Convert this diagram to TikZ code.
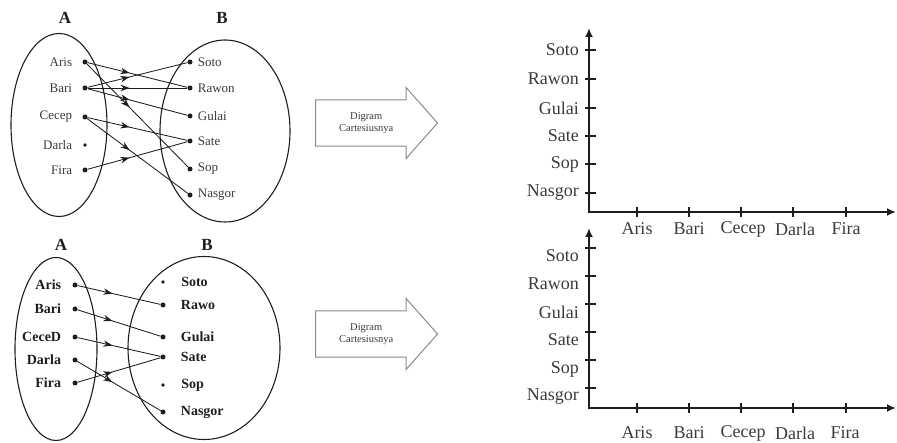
\documentclass[tikz,border=0pt]{standalone}
\usepackage{fontspec}
\setmainfont{Liberation Serif}
\usepackage{tikz}
\usetikzlibrary{arrows.meta,positioning,shapes.geometric,shapes.arrows,decorations.markings}
\definecolor{Ink}{HTML}{1E1E1E}
\definecolor{Soft}{HTML}{3A3A3A}
\definecolor{Frame}{HTML}{8A8A8A}
\tikzset{
  setring/.style={ellipse,draw=Ink,line width=1.1pt,inner sep=0pt},
  elemdot/.style={circle,fill=Ink,inner sep=0pt,minimum size=5pt},
  lonedot/.style={circle,fill=Ink,inner sep=0pt,minimum size=3.8pt},
  setname/.style={font=\fontsize{17}{17}\selectfont\bfseries,text=Ink,inner sep=0pt},
  elem/.style={font=\fontsize{13}{13}\selectfont,text=Soft,inner sep=0pt},
  elembold/.style={font=\fontsize{14}{15}\selectfont\bfseries,text=Ink,inner sep=0pt},
  mapto/.style={draw=Ink,line width=.85pt,postaction={decorate},
    decoration={markings,mark=at position .42 with {\arrow{Stealth[length=9pt,width=6.5pt]}}}},
  bigarrow/.style={single arrow,draw=Frame,line width=1pt,single arrow head extend=12.5pt,
    single arrow tip angle=97,minimum height=122pt,minimum width=70pt,inner ysep=12pt,
    align=center,font=\fontsize{10.5}{12}\selectfont,text=Soft},
  axlines/.style={draw=Ink,line width=2.4pt,{Latex[length=9pt,width=8pt]}-{Latex[length=9pt,width=8pt]}},
  axtick/.style={draw=Ink,line width=1.8pt},
  axlabel/.style={font=\fontsize{18}{18}\selectfont,text=Soft,inner sep=0pt}
}
\begin{document}
\begin{tikzpicture}[x=1pt,y=-1pt]
  \useasboundingbox (0,0) rectangle (897,443);

  \node[setname] (nameA1) at (65,18) {A};
  \node[setname] (nameB1) at (222,18) {B};
  \node[setring,minimum width=96pt,minimum height=183pt] (setA1) at (59,125) {};
  \node[setring,minimum width=130pt,minimum height=182pt] (setB1) at (225,131) {};
  \node[elemdot] (a1) at (85,62) {};
  \node[elemdot] (a2) at (85,88) {};
  \node[elemdot] (a3) at (85,117) {};
  \node[lonedot] (a4) at (85,145) {};
  \node[elemdot] (a5) at (85,170) {};
  \node[elem,left=10pt of a1] {Aris};
  \node[elem,left=10pt of a2] {Bari};
  \node[elem,left=10pt of a3] {Cecep};
  \node[elem,left=10.6pt of a4] {Darla};
  \node[elem,left=10pt of a5] {Fira};
  \node[elemdot] (b1) at (190,62) {};
  \node[elemdot] (b2) at (190,88) {};
  \node[elemdot] (b3) at (190,116) {};
  \node[elemdot] (b4) at (190,141) {};
  \node[elemdot] (b5) at (190,169) {};
  \node[elemdot] (b6) at (190,195) {};
  \node[elem,right=5pt of b1] {Soto};
  \node[elem,right=5pt of b2] {Rawon};
  \node[elem,right=5pt of b3] {Gulai};
  \node[elem,right=5pt of b4] {Sate};
  \node[elem,right=5pt of b5] {Sop};
  \node[elem,right=5pt of b6] {Nasgor};
  \draw[mapto] (a1) -- (b2);
  \draw[mapto] (a1) -- (b5);
  \draw[mapto] (a2) -- (b1);
  \draw[mapto] (a2) -- (b2);
  \draw[mapto] (a2) -- (b3);
  \draw[mapto] (a3) -- (b4);
  \draw[mapto] (a3) -- (b6);
  \draw[mapto] (a5) -- (b4);

  \node[setname] (nameA2) at (61,245) {A};
  \node[setname] (nameB2) at (207,245) {B};
  \node[setring,minimum width=82pt,minimum height=183pt] (setA2) at (56,349) {};
  \node[setring,minimum width=152pt,minimum height=183pt] (setB2) at (204,348) {};
  \node[elemdot] (c1) at (75,285) {};
  \node[elemdot] (c2) at (75,309) {};
  \node[elemdot] (c3) at (75,337) {};
  \node[elemdot] (c4) at (75,360) {};
  \node[elemdot] (c5) at (75,383) {};
  \node[elembold,left=11pt of c1] {Aris};
  \node[elembold,left=11pt of c2] {Bari};
  \node[elembold,left=11pt of c3] {CeceD};
  \node[elembold,left=11pt of c4] {Darla};
  \node[elembold,left=11pt of c5] {Fira};
  \node[lonedot] (d1) at (163,282) {};
  \node[elemdot] (d2) at (163,305) {};
  \node[elemdot] (d3) at (163,337) {};
  \node[elemdot] (d4) at (163,357) {};
  \node[lonedot] (d5) at (163,385) {};
  \node[elemdot] (d6) at (163,412) {};
  \node[elembold,right=16pt of d1] {Soto};
  \node[elembold,right=15pt of d2] {Rawo};
  \node[elembold,right=15pt of d3] {Gulai};
  \node[elembold,right=15pt of d4] {Sate};
  \node[elembold,right=16pt of d5] {Sop};
  \node[elembold,right=15pt of d6] {Nasgor};
  \draw[mapto] (c1) -- (d2);
  \draw[mapto] (c2) -- (d3);
  \draw[mapto] (c3) -- (d4);
  \draw[mapto] (c5) -- (d4);
  \draw[mapto] (c4) -- (d6);

  \node[bigarrow,anchor=tail] (conv1) at (315,123) {Digram\\Cartesiusnya};
  \node[bigarrow,anchor=tail] (conv2) at (315,334) {Digram\\Cartesiusnya};

  \coordinate (o1) at (589,212);
  \coordinate (ytop1) at (589,28);
  \coordinate (xend1) at (896,212);
  \draw[axlines] (ytop1) -- (o1) -- (xend1);
  \draw[axtick] (585,50) -- (596,50);
  \draw[axtick] (585,79) -- (596,79);
  \draw[axtick] (585,108) -- (596,108);
  \draw[axtick] (585,136) -- (596,136);
  \draw[axtick] (585,164) -- (596,164);
  \draw[axtick] (585,193) -- (596,193);
  \node[axlabel,anchor=east] (ys1) at (579,50) {Soto};
  \node[axlabel,anchor=east] (ys2) at (579,79) {Rawon};
  \node[axlabel,anchor=east] (ys3) at (579,108) {Gulai};
  \node[axlabel,anchor=east] (ys4) at (579,136) {Sate};
  \node[axlabel,anchor=east] (ys5) at (579,164) {Sop};
  \node[axlabel,anchor=east] (ys6) at (579,193) {Nasgor};
  \draw[axtick] (637,207) -- (637,217);
  \draw[axtick] (689,207) -- (689,217);
  \draw[axtick] (741,207) -- (741,217);
  \draw[axtick] (793,207) -- (793,217);
  \draw[axtick] (846,207) -- (846,217);
  \node[axlabel] (xs1) at (637,229) {Aris};
  \node[axlabel] (xs2) at (689,229) {Bari};
  \node[axlabel] (xs3) at (743,229) {Cecep};
  \node[axlabel] (xs4) at (795,229) {Darla};
  \node[axlabel] (xs5) at (846,229) {Fira};

  \coordinate (o2) at (589,408);
  \coordinate (ytop2) at (589,228);
  \coordinate (xend2) at (896,408);
  \draw[axlines] (ytop2) -- (o2) -- (xend2);
  \draw[axtick] (585,248) -- (596,248);
  \draw[axtick] (585,276) -- (596,276);
  \draw[axtick] (585,304) -- (596,304);
  \draw[axtick] (585,332) -- (596,332);
  \draw[axtick] (585,360) -- (596,360);
  \draw[axtick] (585,388) -- (596,388);
  \node[axlabel,anchor=east] (yt1) at (579,256) {Soto};
  \node[axlabel,anchor=east] (yt2) at (579,284) {Rawon};
  \node[axlabel,anchor=east] (yt3) at (579,312) {Gulai};
  \node[axlabel,anchor=east] (yt4) at (579,340) {Sate};
  \node[axlabel,anchor=east] (yt5) at (579,369) {Sop};
  \node[axlabel,anchor=east] (yt6) at (579,397) {Nasgor};
  \draw[axtick] (637,403) -- (637,413);
  \draw[axtick] (689,403) -- (689,413);
  \draw[axtick] (741,403) -- (741,413);
  \draw[axtick] (793,403) -- (793,413);
  \draw[axtick] (846,403) -- (846,413);
  \node[axlabel] (xt1) at (637,433) {Aris};
  \node[axlabel] (xt2) at (689,433) {Bari};
  \node[axlabel] (xt3) at (743,433) {Cecep};
  \node[axlabel] (xt4) at (795,433) {Darla};
  \node[axlabel] (xt5) at (845,433) {Fira};
\end{tikzpicture}
\end{document}
